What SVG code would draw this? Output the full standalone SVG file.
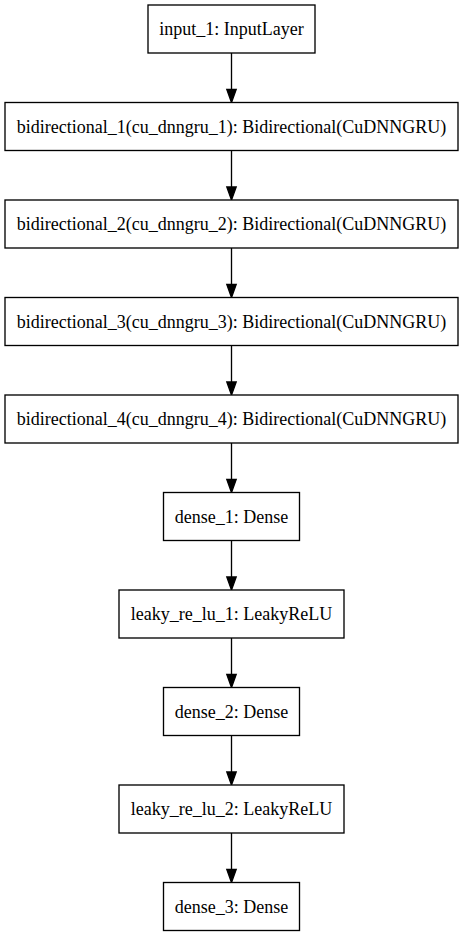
<svg xmlns="http://www.w3.org/2000/svg" width="463" height="936" viewBox="0 0 463 936">
<style>
.box{fill:#fff;stroke:#000;stroke-width:1.33}
.lbl{font-family:"Liberation Serif","Times New Roman",serif;font-size:18px;text-anchor:middle;fill:#000}
.edge line{stroke:#000;stroke-width:1.33}
.edge polygon{fill:#000;stroke:#000;stroke-width:1.33}
</style>
<rect width="463" height="936" fill="#fff"/>
<g id="connectors" class="edge">
<line x1="231.5" y1="53" x2="231.5" y2="89.5"/><polygon points="226.8,89.5 236.2,89.5 231.5,102.5"/>
<line x1="231.5" y1="150.5" x2="231.5" y2="187"/><polygon points="226.8,187 236.2,187 231.5,200"/>
<line x1="231.5" y1="248" x2="231.5" y2="284.5"/><polygon points="226.8,284.5 236.2,284.5 231.5,297.5"/>
<line x1="231.5" y1="345.5" x2="231.5" y2="382"/><polygon points="226.8,382 236.2,382 231.5,395"/>
<line x1="231.5" y1="443" x2="231.5" y2="479.5"/><polygon points="226.8,479.5 236.2,479.5 231.5,492.5"/>
<line x1="231.5" y1="540.5" x2="231.5" y2="577"/><polygon points="226.8,577 236.2,577 231.5,590"/>
<line x1="231.5" y1="638" x2="231.5" y2="674.5"/><polygon points="226.8,674.5 236.2,674.5 231.5,687.5"/>
<line x1="231.5" y1="735.5" x2="231.5" y2="772"/><polygon points="226.8,772 236.2,772 231.5,785"/>
<line x1="231.5" y1="833" x2="231.5" y2="869.5"/><polygon points="226.8,869.5 236.2,869.5 231.5,882.5"/>
</g>
<g id="input_1"><rect class="box" x="148" y="5" width="167" height="48"/><text class="lbl" x="231.5" y="35">input_1: InputLayer</text></g>
<g id="bidirectional_1"><rect class="box" x="5" y="102.5" width="453" height="48"/><text class="lbl" x="231.5" y="132.5">bidirectional_1(cu_dnngru_1): Bidirectional(CuDNNGRU)</text></g>
<g id="bidirectional_2"><rect class="box" x="5" y="200" width="453" height="48"/><text class="lbl" x="231.5" y="230">bidirectional_2(cu_dnngru_2): Bidirectional(CuDNNGRU)</text></g>
<g id="bidirectional_3"><rect class="box" x="5" y="297.5" width="453" height="48"/><text class="lbl" x="231.5" y="327.5">bidirectional_3(cu_dnngru_3): Bidirectional(CuDNNGRU)</text></g>
<g id="bidirectional_4"><rect class="box" x="5" y="395" width="453" height="48"/><text class="lbl" x="231.5" y="425">bidirectional_4(cu_dnngru_4): Bidirectional(CuDNNGRU)</text></g>
<g id="dense_1"><rect class="box" x="163.5" y="492.5" width="136" height="48"/><text class="lbl" x="231.5" y="522.5">dense_1: Dense</text></g>
<g id="leaky_re_lu_1"><rect class="box" x="119" y="590" width="225" height="48"/><text class="lbl" x="231.5" y="620">leaky_re_lu_1: LeakyReLU</text></g>
<g id="dense_2"><rect class="box" x="163.5" y="687.5" width="136" height="48"/><text class="lbl" x="231.5" y="717.5">dense_2: Dense</text></g>
<g id="leaky_re_lu_2"><rect class="box" x="119" y="785" width="225" height="48"/><text class="lbl" x="231.5" y="815">leaky_re_lu_2: LeakyReLU</text></g>
<g id="dense_3"><rect class="box" x="163.5" y="882.5" width="136" height="48"/><text class="lbl" x="231.5" y="912.5">dense_3: Dense</text></g>
</svg>
